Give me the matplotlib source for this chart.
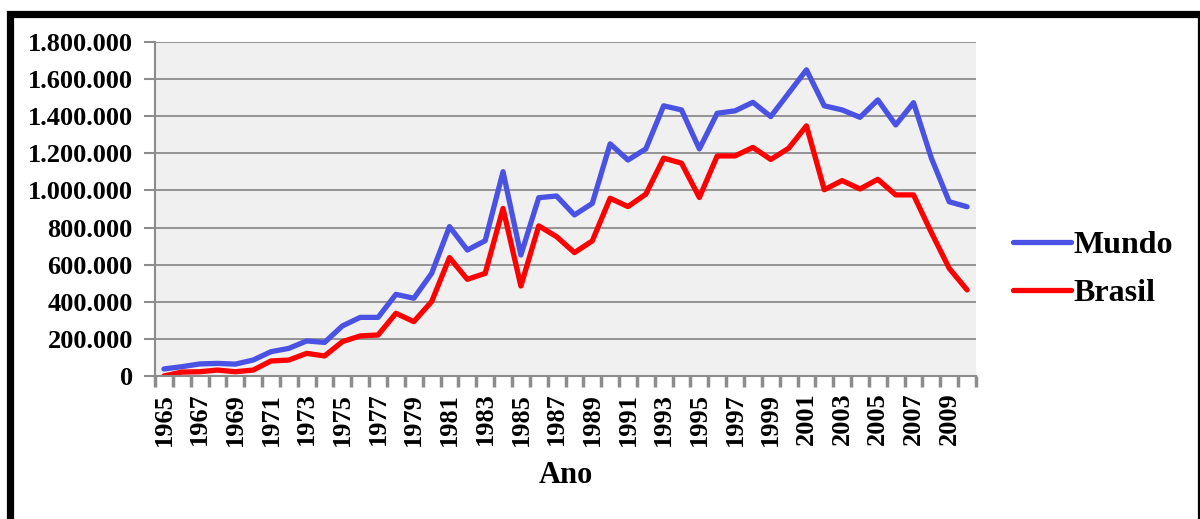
import matplotlib.pyplot as plt
import numpy as np
from matplotlib.patches import Rectangle
from matplotlib.ticker import FuncFormatter

# values
years = list(range(1965, 2011))
mundo = [38000, 50000, 65000, 68000, 64000, 86000, 131000, 149000, 189000, 181000,
         270000, 316000, 316000, 440000, 419000, 553000, 805000, 679000, 729000, 1101000,
         652000, 961000, 970000, 868000, 930000, 1251000, 1164000, 1224000, 1456000, 1434000,
         1224000, 1416000, 1429000, 1475000, 1398000, 1524000, 1650000, 1456000, 1434000, 1394000,
         1488000, 1353000, 1473000, 1174000, 939000, 912000]
brasil = [0, 21000, 23000, 32000, 23000, 32000, 81000, 86000, 122000, 108000,
          185000, 216000, 221000, 338000, 293000, 401000, 638000, 521000, 553000, 903000,
          485000, 809000, 751000, 665000, 728000, 958000, 913000, 980000, 1174000, 1147000,
          962000, 1186000, 1186000, 1232000, 1167000, 1227000, 1348000, 1004000, 1053000, 1008000,
          1060000, 976000, 976000, 773000, 580000, 464000]
label_years = years[::2]

plt.rcParams['font.family'] = ['Liberation Serif', 'DejaVu Serif']
plt.rcParams['font.weight'] = 'bold'

fig = plt.figure(figsize=(12, 5.19), dpi=100)
ax = fig.add_axes([155 / 1200, 1 - 376 / 519, 821 / 1200, 334 / 519])
ax.set_facecolor('#f0f0f0')

ax.plot(years, mundo, color='#4a52e3', lw=3.8, label='Mundo', solid_capstyle='round')
ax.plot(years, brasil, color='#ff0000', lw=3.8, label='Brasil', solid_capstyle='round')

ax.set_xlim(1964.5, 2010.5)
ax.set_ylim(0, 1800000)
ax.set_yticks(np.arange(0, 1800001, 200000))

def fmt(v, pos):
    return f"{int(v):,}".replace(',', '.')

ax.yaxis.set_major_formatter(FuncFormatter(fmt))
ax.yaxis.grid(True, color='#8c8c8c', lw=1.3)
ax.set_axisbelow(True)

# tick marks between categories, labels on every other year
ax.set_xticks(np.arange(1964.5, 2011, 1))
ax.set_xticklabels([])
ax.set_xticks(label_years, minor=True)
ax.set_xticklabels([str(y) for y in label_years], minor=True, rotation=90,
                   fontsize=19, fontweight='bold')
ax.tick_params(axis='x', which='major', length=8, width=2.5, color='#8c8c8c', direction='out')
ax.tick_params(axis='x', which='minor', length=0, pad=12)
ax.tick_params(axis='y', length=8, width=1.5, color='#8c8c8c', pad=8, labelsize=19)
for lbl in ax.get_yticklabels():
    lbl.set_fontweight('bold')

for s in ['top', 'right']:
    ax.spines[s].set_visible(False)
for s in ['left', 'bottom']:
    ax.spines[s].set_color('#8c8c8c')
    ax.spines[s].set_linewidth(1.5)

ax.set_xlabel('Ano', fontsize=22, fontweight='bold', labelpad=11)

fig.legend(loc='center left', bbox_to_anchor=(1013 / 1200, 1 - 269.5 / 519),
           frameon=False, prop={'weight': 'bold', 'size': 23},
           handlelength=1.8, handletextpad=0.1, labelspacing=0.6,
           borderpad=0, borderaxespad=0)

# black frame around the chart
fig.patches.append(Rectangle((9.5 / 1200, -0.1), (1201 - 9.5) / 1200, 1.1 - 14.5 / 519,
                             transform=fig.transFigure, fill=False,
                             edgecolor='black', lw=5.2))

fig.savefig('out.png', dpi=100)
